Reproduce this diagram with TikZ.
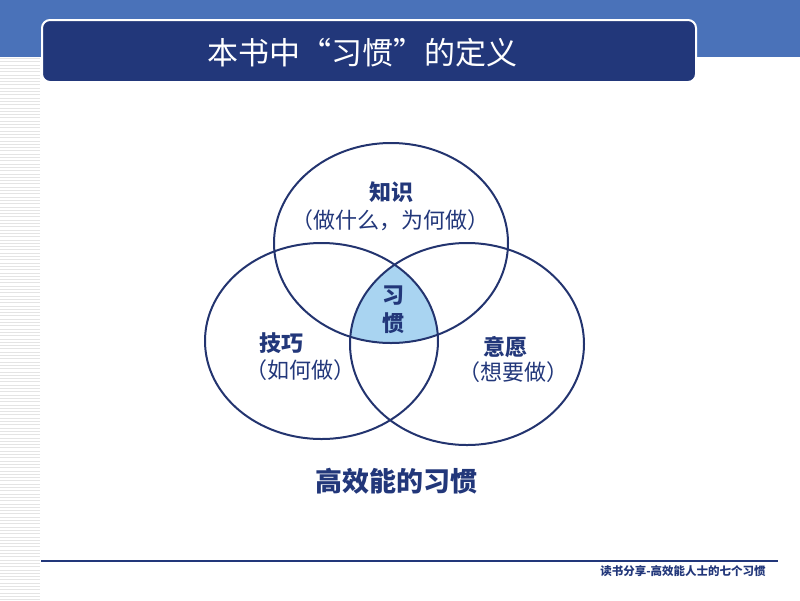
\documentclass[tikz,border=0pt]{standalone}
\usepackage{fontspec}
\setmainfont{Noto Sans CJK SC}
\definecolor{band}{HTML}{4A72B9}
\definecolor{navy}{HTML}{22377A}
\definecolor{vline}{HTML}{23346F}
\definecolor{core}{HTML}{A9D4F1}
\definecolor{stripe}{HTML}{E4E4E4}
\begin{document}
\begin{tikzpicture}[x=1pt,y=-1pt,
  venn/.style={draw=vline,line width=2pt},
  head/.style={text=navy,inner sep=0,font=\bfseries\fontsize{22}{24}\selectfont},
  sub/.style={text=navy,inner sep=0,font=\fontsize{22}{24}\selectfont},
  titletext/.style={text=white,inner sep=0,font=\fontsize{31}{34}\selectfont},
  bigtext/.style={text=navy,inner sep=0,font=\bfseries\fontsize{27}{30}\selectfont},
  foottext/.style={text=navy,inner sep=0,font=\bfseries\fontsize{11.5}{13}\selectfont}]
\useasboundingbox (0,0) rectangle (800,600);
% background band and stripes
\fill[band] (0,0) rectangle (800,57);
\foreach \y in {58.5,61.8,...,600} \draw[stripe,line width=1pt] (0,\y) -- (40,\y);
% title box
\draw[fill=navy,draw=white,line width=2pt,rounded corners=8pt] (42,20) rectangle (696,82);
\node[titletext] (title) at (362,53) {本书中“习惯”的定义};
% core intersection
\begin{scope}
  \clip (391,243) ellipse [x radius=117,y radius=100];
  \clip (321.5,341) ellipse [x radius=116.5,y radius=98];
  \fill[core] (467,344) ellipse [x radius=117,y radius=101];
\end{scope}
% circles
\draw[venn] (391,243) ellipse [x radius=117,y radius=100];
\draw[venn] (321.5,341) ellipse [x radius=116.5,y radius=98];
\draw[venn] (467,344) ellipse [x radius=117,y radius=101];
% labels
\node[head] (know) at (391,192) {知识};
\node[sub] (knowsub) at (390,220) {（做什么，为何做）};
\node[head] (xi) at (393,296) {习};
\node[head] (guan) at (393,323) {惯};
\node[head] (skill) at (281,343) {技巧};
\node[sub] (skillsub) at (300,370) {（如何做）};
\node[head] (will) at (505,347) {意愿};
\node[sub] (willsub) at (513,372) {（想要做）};
\node[bigtext] (habit) at (396,481) {高效能的习惯};
% footer
\coordinate (fl) at (41,561);
\coordinate (fr) at (778,561);
\draw[navy,line width=1.5pt] (fl) -- (fr);
\node[foottext] (foot) at (683,571.5) {读书分享-高效能人士的七个习惯};
\end{tikzpicture}
\end{document}
